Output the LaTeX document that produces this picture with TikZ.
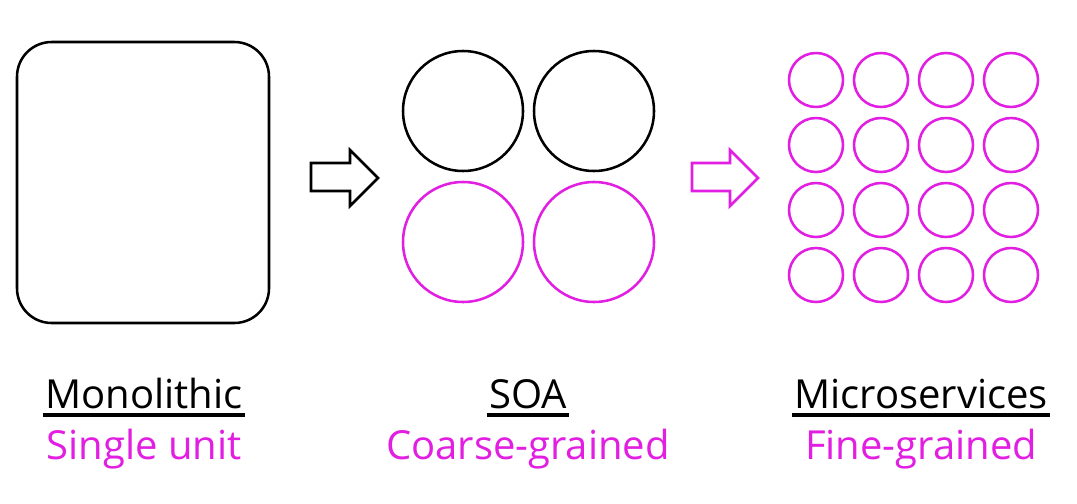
\documentclass[tikz,border=0pt]{standalone}
\usepackage{fontspec}
\setmainfont{Open Sans}
\definecolor{mag}{RGB}{225,30,225}
\begin{document}
\begin{tikzpicture}[x=0.75pt,y=-0.75pt,
  blk/.style={draw=black,line width=1.9pt},
  mg/.style={draw=mag,line width=1.9pt},
  title/.style={font=\fontsize{30}{35}\selectfont,text=black,anchor=base,inner sep=0pt},
  sub/.style={font=\fontsize{30}{35}\selectfont,text=mag,anchor=base,inner sep=0pt}]
\useasboundingbox (0,0) rectangle (1077,503);
% monolith
\draw[blk,rounded corners=26pt] (17,42) rectangle (269,323);
% arrows
\draw[blk,line join=miter] (311,163) -- (350,163) -- (350,150) -- (378,178) -- (350,206) -- (350,191) -- (311,191) -- cycle;
\draw[mg,line join=miter] (692,163) -- (730,163) -- (730,150) -- (758,178) -- (730,206) -- (730,191) -- (692,191) -- cycle;
% SOA circles
\foreach \cx/\cy/\s in {463/111/blk,594/111/blk,463/242/mg,594/242/mg}
  \draw[\s] (\cx,\cy) circle[radius=60];
% microservices
\foreach \i in {0,...,3}
  \foreach \j in {0,...,3}
    \draw[mg] (816+65*\i,80+65*\j) circle[radius=27];
% labels
\node[title] (t1) at (144,408) {Monolithic};
\node[sub] (s1) at (144,459) {Single unit};
\node[title] (t2) at (528,408) {SOA};
\node[sub] (s2) at (528,459) {Coarse-grained};
\node[title] (t3) at (921,408) {Microservices};
\node[sub] (s3) at (921,459) {Fine-grained};
\foreach \n in {t1,t2,t3}
  \draw[black,line width=3pt] ([xshift=-1.5pt,yshift=-5pt]\n.base west) -- ([xshift=1.5pt,yshift=-5pt]\n.base east);
\end{tikzpicture}
\end{document}
